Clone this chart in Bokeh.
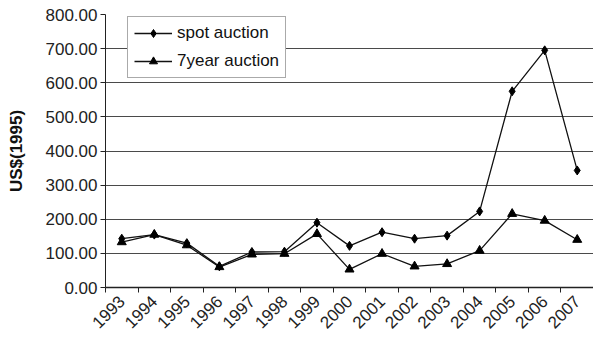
from bokeh.plotting import figure
from bokeh.models import ColumnDataSource, Range1d, FixedTicker, NumeralTickFormatter, Legend, LegendItem
from bokeh.embed import file_html
from bokeh.resources import INLINE
import math

years = ["1993", "1994", "1995", "1996", "1997", "1998", "1999", "2000",
         "2001", "2002", "2003", "2004", "2005", "2006", "2007"]
spot_auction = [143, 155, 130, 62, 104, 105, 190, 122, 162, 143, 152, 223, 575, 695, 343]
seven_year_auction = [133, 155, 124, 60, 97, 99, 157, 53, 99, 62, 69, 108, 216, 196, 140]
y_ticks = [0, 100, 200, 300, 400, 500, 600, 700, 800]

xpos = [i + 0.5 for i in range(len(years))]
src = ColumnDataSource(dict(x=xpos, spot=spot_auction, seven=seven_year_auction))

FONT = "Liberation Sans"
p = figure(width=593, height=344, output_backend="svg", toolbar_location=None,
           x_range=Range1d(0, len(years)), y_range=Range1d(0, 800),
           min_border_left=105, min_border_right=0, min_border_top=14, min_border_bottom=57)
p.outline_line_color = None
p.background_fill_color = "white"

# grid
p.xgrid.visible = False
p.ygrid.ticker = FixedTicker(ticks=y_ticks)
p.ygrid.grid_line_color = "#4a4a4a"
p.ygrid.grid_line_width = 1

# y axis
p.yaxis.ticker = FixedTicker(ticks=y_ticks)
p.yaxis.formatter = NumeralTickFormatter(format="0.00")
p.yaxis.axis_label = "US$(1995)"
p.yaxis.axis_label_text_font = FONT
p.yaxis.axis_label_text_font_style = "bold"
p.yaxis.axis_label_text_font_size = "17px"
p.yaxis.axis_label_text_color = "#111111"
p.yaxis.axis_label_standoff = 17
p.yaxis.major_label_text_font = FONT
p.yaxis.major_label_text_font_size = "17px"
p.yaxis.major_label_text_color = "#222222"
p.yaxis.major_label_standoff = 3
p.yaxis.major_tick_in = 0
p.yaxis.major_tick_out = 5
p.yaxis.minor_tick_line_color = None
p.yaxis.axis_line_color = "#222222"
p.yaxis.major_tick_line_color = "#222222"

# x axis: labels at category centres, ticks at boundaries
p.xaxis.ticker = FixedTicker(ticks=xpos, minor_ticks=list(range(len(years) + 1)))
p.xaxis.major_label_overrides = {x: y for x, y in zip(xpos, years)}
p.xaxis.major_tick_line_color = None
p.xaxis.minor_tick_in = 0
p.xaxis.minor_tick_out = 5
p.xaxis.minor_tick_line_color = "#222222"
p.xaxis.axis_line_color = "#222222"
p.xaxis.axis_line_width = 1.5
p.xaxis.major_label_orientation = math.pi / 4
p.xaxis.major_label_text_font = FONT
p.xaxis.major_label_text_font_size = "17px"
p.xaxis.major_label_text_color = "#222222"
p.xaxis.major_label_standoff = 5

l1 = p.line("x", "spot", source=src, line_color="#111111", line_width=1.3)
m1 = p.scatter("x", "spot", source=src, marker="diamond", size=9, fill_color="black", line_color="black")
l2 = p.line("x", "seven", source=src, line_color="#111111", line_width=1.3)
m2 = p.scatter("x", "seven", source=src, marker="triangle", size=9, fill_color="black", line_color="black")

legend = Legend(items=[LegendItem(label="spot auction", renderers=[l1, m1]),
                       LegendItem(label="7year auction", renderers=[l2, m2])],
                location=(22, 209))
legend.label_text_font = FONT
legend.label_text_font_size = "17px"
legend.label_text_color = "#111111"
legend.glyph_width = 38
legend.glyph_height = 20
legend.label_height = 20
legend.label_standoff = 5
legend.padding = 6
legend.spacing = 8
legend.margin = 0
legend.border_line_color = "#555555"
legend.border_line_width = 1
legend.background_fill_color = "white"
legend.background_fill_alpha = 1
p.add_layout(legend, "center")

open("out.html", "w").write(file_html(p, INLINE))
